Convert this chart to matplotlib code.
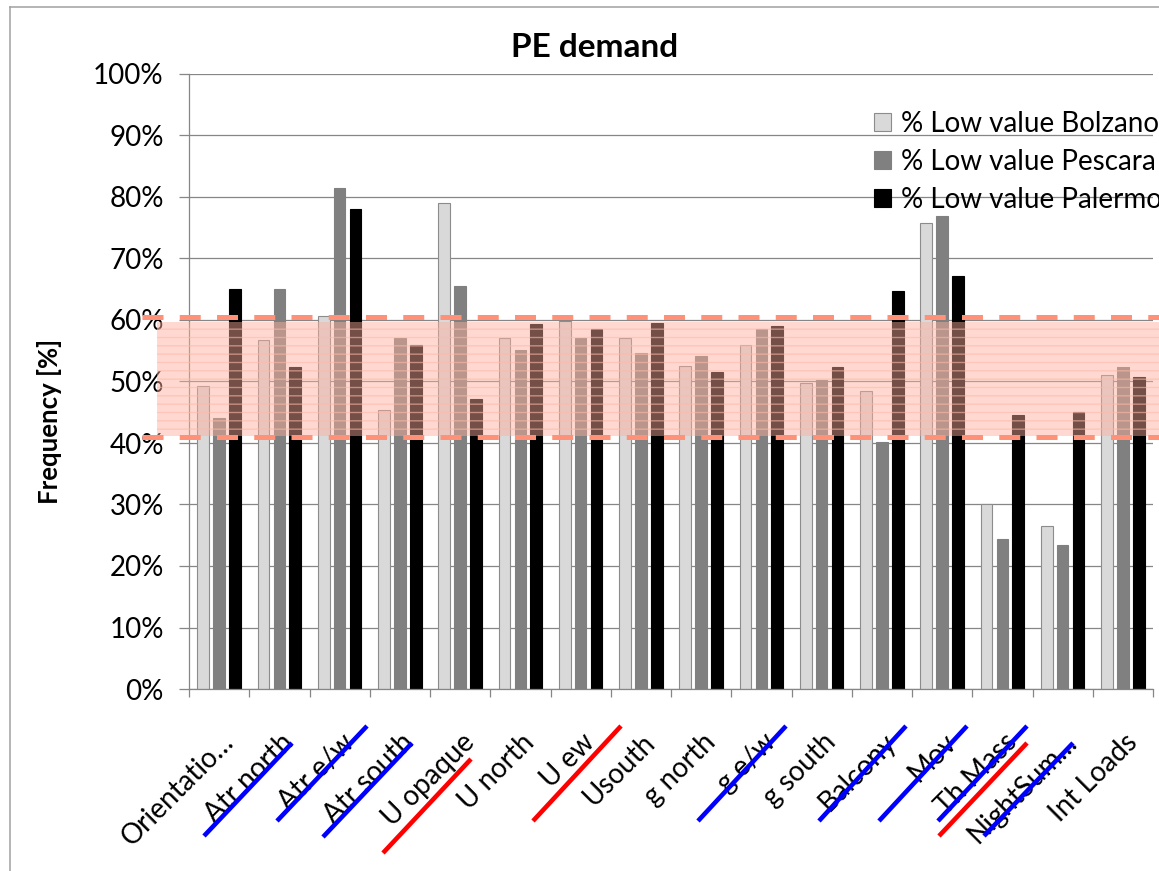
import matplotlib
matplotlib.use("Agg")
import matplotlib.pyplot as plt
import numpy as np
from matplotlib import transforms
from matplotlib.lines import Line2D
from matplotlib.patches import Rectangle, Patch

# ---------------- data ----------------
categories = ["Orientatio…", "Atr north", "Atr e/w", "Atr south", "U opaque",
              "U north", "U ew", "Usouth", "g north", "g e/w", "g south",
              "Balcony", "Mov", "Th Mass", "NightSum…", "Int Loads"]
series_names = ["% Low value Bolzano", "% Low value Pescara", "% Low value Palermo"]
bolzano = [49.3, 56.7, 60.6, 45.3, 79.1, 57.0, 59.8, 57.0, 52.6, 56.0, 49.8, 48.4, 75.7, 30.0, 26.5, 51.0]
pescara = [44.0, 65.1, 81.4, 57.0, 65.6, 55.2, 57.0, 54.6, 54.1, 58.6, 50.2, 40.2, 76.9, 24.4, 23.4, 52.4]
palermo = [65.0, 52.4, 78.0, 56.0, 47.2, 59.4, 58.5, 59.5, 51.6, 59.0, 52.4, 64.7, 67.1, 44.5, 45.1, 50.8]
yticks = list(range(0, 101, 10))

# highlighted band (annotation overlay), in %
band_fill = (41.2, 59.6)
band_lines = [60.5, 41.0]

# hand-drawn strike lines over the labels (figure pixels: x0, y0, x1, y1, colour)
strike_lines = [
    (204, 836, 292, 743, "#0000FF"),
    (277, 821, 367, 726, "#0000FF"),
    (323, 837, 412, 743, "#0000FF"),
    (383, 853, 471, 759, "#FF0000"),
    (533, 821, 621, 726, "#FF0000"),
    (698, 821, 786, 726, "#0000FF"),
    (819, 821, 906, 726, "#0000FF"),
    (879, 821, 967, 726, "#0000FF"),
    (938, 821, 1027, 726, "#0000FF"),
    (939, 836, 1027, 743, "#FF0000"),
    (984, 836, 1073, 743, "#0000FF"),
]

# ---------------- style ----------------
W, H = 1159, 871
plt.rcParams["font.family"] = ["Lato", "DejaVu Sans"]
grid_c = "#868686"

fig = plt.figure(figsize=(W / 100, H / 100), dpi=100)
ax = fig.add_axes([189 / W, 1 - 689 / H, (1153 - 189) / W, (689 - 74) / H])

x = np.arange(len(categories))
bw, off = 0.195, 0.265
ax.bar(x - off, bolzano, bw, color="#D9D9D9", edgecolor="#8C8C8C", lw=0.8, zorder=2)
ax.bar(x, pescara, bw, color="#808080", edgecolor="#808080", lw=0.8, zorder=2)
ax.bar(x + off, palermo, bw, color="black", edgecolor="black", lw=0.8, zorder=2)

ax.set_xlim(-0.5, len(categories) - 0.5)
ax.set_ylim(0, 100)
ax.set_yticks(yticks)
ax.yaxis.set_major_formatter(lambda v, p: f"{v:.0f}%")
ax.grid(axis="y", color=grid_c, lw=0.9, zorder=0)
ax.set_axisbelow(True)
for s in ["top", "right"]:
    ax.spines[s].set_visible(False)
for s in ["left", "bottom"]:
    ax.spines[s].set_color(grid_c)
    ax.spines[s].set_linewidth(0.9)
ax.set_xticks(np.arange(-0.5, len(categories), 1))
ax.set_xticklabels([])
ax.tick_params(axis="x", length=6, width=0.9, color=grid_c, direction="out")
ax.tick_params(axis="y", length=7.2, width=0.9, color=grid_c, direction="out",
               pad=11, labelsize=20)

lab_tr = ax.get_xaxis_transform() + transforms.ScaledTranslation(1 / 100, -40 / 100, fig.dpi_scale_trans)
for i, lab in enumerate(categories):
    ax.text(i, 0, lab, transform=lab_tr, rotation=45, rotation_mode="anchor",
            ha="right", va="top", fontsize=20, clip_on=False)

# title & y label
fig.text(594.5 / W, 1 - 57 / H, "PE demand", ha="center", va="baseline",
         fontsize=24, fontweight="bold")
fig.text(50 / W, 1 - 421 / H, "Frequency [%]", rotation=90, ha="center", va="center",
         fontsize=18.5, fontweight="bold")

# legend
handles = [Patch(facecolor="#D9D9D9", edgecolor="#8C8C8C", lw=0.8),
           Patch(facecolor="#808080", edgecolor="#808080", lw=0.8),
           Patch(facecolor="black", edgecolor="black", lw=0.8)]
fig.legend(handles, series_names, loc="upper left", bbox_to_anchor=(874 / W, 1 - 111 / H),
           frameon=False, borderpad=0, borderaxespad=0, handlelength=0.62,
           handleheight=0.62, handletextpad=0.35, labelspacing=0.43, fontsize=20)

# highlighted band overlay
btr = transforms.blended_transform_factory(fig.transFigure, ax.transData)
fig.add_artist(Rectangle((157 / W, band_fill[0]), 1 - 157 / W, band_fill[1] - band_fill[0],
                         transform=btr, facecolor="#FFAE9C", alpha=0.46, lw=0, zorder=5))
plt.rcParams["hatch.linewidth"] = 1.0
fig.add_artist(Rectangle((157 / W, band_fill[0]), 1 - 157 / W, band_fill[1] - band_fill[0],
                         transform=btr, facecolor="none", edgecolor="#FFB8A8", hatch="--",
                         lw=0, alpha=0.6, zorder=5))
for yv in band_lines:
    fig.add_artist(Line2D([142 / W, 1], [yv, yv], transform=btr, color="#FF9178",
                          lw=3.6, linestyle=(0, (4.2, 3.25)), solid_capstyle="butt",
                          dash_capstyle="butt", zorder=6))

# strike lines
for x0, y0, x1, y1, c in strike_lines:
    fig.add_artist(Line2D([x0 / W, x1 / W], [1 - y0 / H, 1 - y1 / H], transform=fig.transFigure,
                          color=c, lw=3.3, solid_capstyle="butt", zorder=7))

# chart-area border
fig.add_artist(Line2D([10 / W, 10 / W], [0, 1 - 7 / H], transform=fig.transFigure, color="#A0A0A0", lw=1.1))
fig.add_artist(Line2D([10 / W, 1], [1 - 7 / H, 1 - 7 / H], transform=fig.transFigure, color="#A0A0A0", lw=1.1))

fig.savefig("out.png", dpi=100)
